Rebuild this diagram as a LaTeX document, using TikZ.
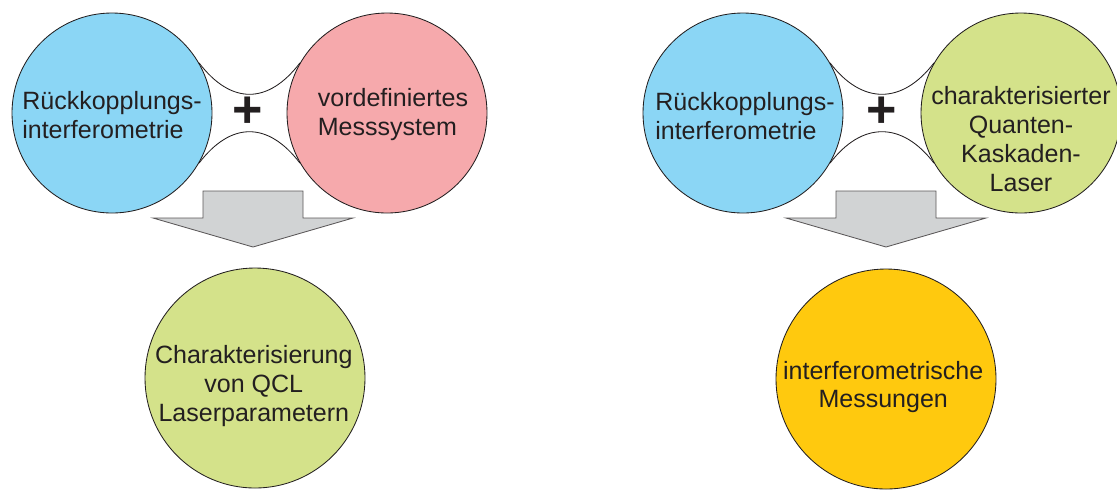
\documentclass[tikz,border=0pt]{standalone}
\usepackage{fontspec}
\setmainfont{Liberation Sans}
\usetikzlibrary{calc}
\usetikzlibrary{positioning}

\definecolor{hellblau}{RGB}{139,214,245}
\definecolor{rosa}{RGB}{246,169,172}
\definecolor{hellgruen}{RGB}{212,226,138}
\definecolor{orange}{RGB}{255,201,14}
\definecolor{pfeilgrau}{RGB}{209,211,212}
\definecolor{schrift}{RGB}{35,31,32}

\begin{document}
\begin{tikzpicture}[
        kreis/.style={circle,draw=schrift,line width=0.6pt,minimum size=5cm,inner sep=0pt},
        grosskreis/.style={kreis,minimum size=5.5cm},
        beschr/.style={text=schrift,font=\fontsize{17.8}{20.6}\selectfont},
        bogen/.style={draw=schrift,line width=0.6pt},
        pfeil/.style={fill=pfeilgrau,draw=schrift!75,line width=0.6pt},
        plus/.style={text=schrift,font=\fontsize{37}{37}\selectfont\bfseries,inner sep=0pt}]

        \useasboundingbox (0,0) rectangle (27.925,-12.225);

        \node[kreis,fill=hellblau] (rk1) at (2.8,-2.825) {};
        \node[kreis,fill=rosa] (mess) at (9.675,-2.825) {};
        \node[grosskreis,fill=hellgruen] (qcl) at (6.375,-9.45) {};

        \node[kreis,fill=hellblau] (rk2) at (18.575,-2.825) {};
        \node[kreis,fill=hellgruen] (qkl) at (25.525,-2.825) {};
        \node[grosskreis,fill=orange] (ifm) at (22.15,-9.475) {};

        \node[beschr,align=left] (rk1text) at ([yshift=-0.05cm]rk1.center) {Rückkopplungs-\\interferometrie};
        \node[beschr,align=left] (messtext) at ([xshift=0.15cm,yshift=-0.04cm]mess.center) {vordefiniertes\\Messsystem};
        \node[beschr,align=center] (qcltext) at ([xshift=-0.03cm,yshift=-0.2cm]qcl.center) {Charakterisierung\\von QCL\\Laserparametern};
        \node[beschr,align=left] (rk2text) at ([xshift=0.05cm,yshift=-0.07cm]rk2.center) {Rückkopplungs-\\interferometrie};
        \node[beschr,align=center] (qkltext) at ([yshift=-0.65cm]qkl.center) {charakterisierter\\Quanten-\\Kaskaden-\\Laser};
        \node[beschr,align=center] (ifmtext) at ([xshift=-0.07cm,yshift=-0.2cm]ifm.center) {interferometrische\\Messungen};

        \draw[bogen] (rk1.30) .. controls +(0.8,-1.05) and +(-0.8,-1.05) .. (mess.150);
        \draw[bogen] (rk1.-30) .. controls +(0.8,1.05) and +(-0.8,1.05) .. (mess.-150);
        \draw[bogen] (rk2.30) .. controls +(0.8,-1.05) and +(-0.8,-1.05) .. (qkl.150);
        \draw[bogen] (rk2.-30) .. controls +(0.8,1.05) and +(-0.8,1.05) .. (qkl.-150);

        \node[plus] (plus1) at (6.2,-2.8) {+};
        \node[plus] (plus2) at (22.05,-2.8) {+};

        \foreach \x in {6.325,22.15}
        \draw[pfeil] (\x,-4.775) ++(-1.25,0) -- ++(2.5,0) -- ++(0,-0.675) -- ++(1.25,0)
            -- ++(-2.5,-0.725) -- ++(-2.5,0.725) -- ++(1.25,0) -- cycle;
    \end{tikzpicture}
\end{document}
